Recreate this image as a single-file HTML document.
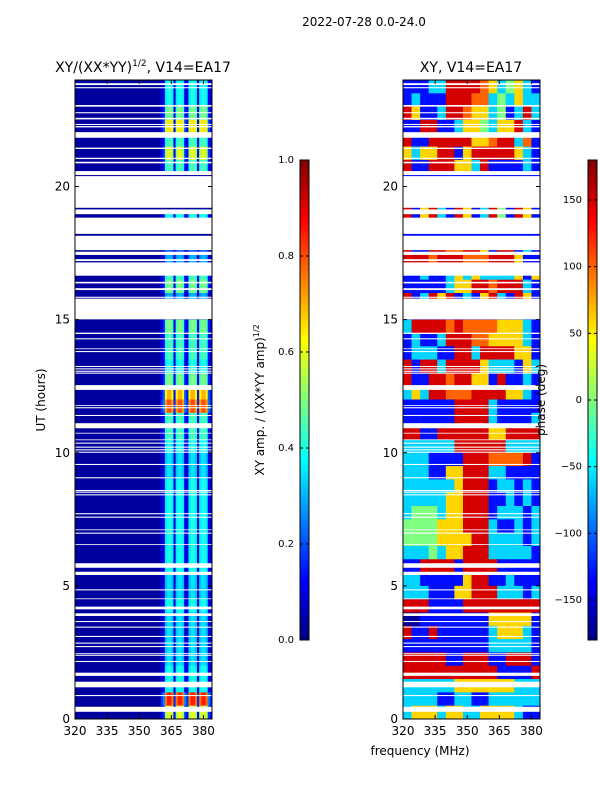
<!DOCTYPE html>
<html><head><meta charset="utf-8"><style>
html,body{margin:0;padding:0;background:#fff;}
svg{display:block;font-family:"DejaVu Sans","Liberation Sans",sans-serif;}
</style></head><body>
<svg id="chart" width="600" height="800" viewBox="0 0 600 800" xmlns="http://www.w3.org/2000/svg">
<text x="364" y="26" font-size="12" text-anchor="middle">2022-07-28 0.0-24.0</text>
<text x="143" y="72" font-size="14" text-anchor="middle">XY/(XX*YY)<tspan font-size="9" dy="-6">1/2</tspan><tspan dy="6">, V14=EA17</tspan></text>
<text x="471" y="72" font-size="14" text-anchor="middle">XY, V14=EA17</text>
<text transform="translate(45,400) rotate(-90)" font-size="12" text-anchor="middle">UT (hours)</text>
<text x="420" y="755" font-size="12" text-anchor="middle">frequency (MHz)</text>
<text transform="translate(264,400) rotate(-90)" font-size="12" text-anchor="middle">XY amp. / (XX*YY amp)<tspan font-size="8" dy="-5">1/2</tspan></text>
<g id="left"></g>
<g id="right"></g>
<g id="axes"></g>
<text transform="translate(545,400) rotate(-90)" font-size="12" text-anchor="middle">phase (deg)</text>
</svg>
<script>
// ---- data ----
const hourTicks = [0, 5, 10, 15, 20];
const freqTicks = [320, 335, 350, 365, 380];
const ampTicks = [0.0, 0.2, 0.4, 0.6, 0.8, 1.0];
const phaseTicks = [-150, -100, -50, 0, 50, 100, 150];
// amplitude band frequency bins (1 MHz, start freq)
const bandFreqs = [360,361,362,363,364,365,366,367,368,369,370,371,372,373,374,375,376,377,378,379,380,381,382,383];
const bandProfile = [0.2,0.3,0.9,1,1,0.9,0.2,0.9,1,1,0.9,0.3,0.2,0.9,1,1,0.9,0.2,0.9,1,1,0.9,0.3,0.2];
// half-hour rows from 24h downward
const rowGain = [0.4,0.4,0.5,0.65,0.45,0.6,0.45,0,0,0,0.4,0,0.2,0.3,0.45,0.5,0.3,0,0.5,0.45,0.45,0.4,0.5,0.7,
                 0.8,0.45,0.45,0.4,0.35,0.35,0.4,0.4,0.4,0.4,0.4,0.4,0.4,0.35,0.35,0.4,0.35,0.35,0.35,0.35,0.4,0.4,0.85,0.6];
const ampBackground = 0.03;
// phase: 16 columns of 4 MHz, rows of 0.5 h from 24h downward
const phaseRows = [
"bbbccrrrroycgycb","bcbbbrrroocgcycc","rybbcrroyycgbcrc","bbrrbbcyygcyyrcb",
"rbbrrrrryyorrcob","ycyyrrbyrrrrrycb","rbbrrryycrbbbbcb","bbbbbbbbbbbbbbbb",
"bbbbbbbbbbbbbbbb","rbyrcbrybcrgbryb","rbyrcbrybcrgbryb","bbbbbbbbbbbbbbbb",
"rbbrroorrybrrbcb","rrrorrrooorrrybb","bbcbbcycyccccyby","bbbbbcyyrrorrrcb",
"rbcryrbcbyrcbryb","bbbbbbbbbbbbbbbb","crrrrorooooyyycb","bcbbcrrrooyyyycb",
"bcccbbrrcrrrryyb","rbrrcrrrrycccbyc","rbbrrorryybrbbcb","cycrrooorrrryycb",
"bbbbbbrrrrcbbbbb","bbbbbbrrrrcbbbbc","rrbbrrrrrryyrrrr","ccccccrrrrrrcccc",
"cccbbbbrrroooorb","cccbbyyrrrccbbbb","ccccccyrrrbccbcb","cccccyyrrrbbcbcb",
"cgggcyyrrrbcccbc","ggggyyyrrrcbbcbc","ggggyyyyrrccccbc","cccgcyyrrrcccccb",
"bbrrrrbrrrrbbbbb","ccbbbbbyrrbbcbbb","cccbbbyyrrrcccbc","rrrbbbbrrrrrrrrr",
"BBbbbbbbbbyyyyyb","rbbrbbbbbbcyyycb","bbbbbbbbbbcccccb","rrrrrbbrrrbbrrrb",
"rrrrrrrrrrrbbbbr","ccccccyyyyyyyccc","ccccbbccbbcccccc","cyyycyyccyyyycbb"];
const phaseCodes = {B:-170, b:-130, c:-60, g:0, y:60, o:100, r:150};
// blank (no data) intervals in hours [low, high]
const gaps = [[23.81,23.88],[23.69,23.73],[23.0,23.06],[22.75,22.79],[22.52,22.58],[22.31,22.35],[22.22,22.27],
[21.83,22.04],[21.41,21.46],[21.03,21.08],[20.87,20.93],[20.43,20.58],[19.2,20.39],[18.96,19.14],[18.22,18.83],
[17.61,18.15],[17.43,17.55],[17.2,17.27],[16.65,17.15],[16.36,16.42],[16.11,16.18],[15.82,15.86],[15.01,15.79],
[14.46,14.51],[14.26,14.3],[13.89,13.92],[13.78,13.82],[13.22,13.26],[13.13,13.17],[13.04,13.08],[12.97,13.01],
[12.36,12.54],[11.76,11.79],[11.67,11.71],[11.38,11.42],[10.92,11.11],[10.72,10.75],[10.47,10.5],[10.34,10.38],
[10.19,10.23],[10.09,10.13],[10.0,10.04],[9.54,9.58],[9.04,9.08],[8.56,8.6],[8.5,8.54],[8.4,8.44],[7.69,7.73],
[7.56,7.6],[7.09,7.12],[6.96,7.0],[6.54,6.57],[5.68,5.85],[5.41,5.53],[4.83,4.87],[4.5,4.53],[4.12,4.22],
[3.87,3.97],[3.64,3.68],[3.43,3.47],[3.08,3.12],[2.83,2.87],[2.7,2.74],[2.43,2.47],[2.37,2.4],[2.14,2.18],
[1.62,1.74],[1.19,1.4],[0.86,0.9],[0.27,0.46]];

// ---- scales ----
const NS = "http://www.w3.org/2000/svg";
const yTop = 80, yBot = 719, hMax = 24;
const yS = h => yBot - (yBot - yTop) * h / hMax;
const F0 = 320, F1 = 384;
const LX0 = 75, LX1 = 212, RX0 = 403, RX1 = 540;
const xL = f => LX0 + (LX1 - LX0) * (f - F0) / (F1 - F0);
const xR = f => RX0 + (RX1 - RX0) * (f - F0) / (F1 - F0);
const cl = v => Math.max(0, Math.min(1, v));
function jet(v){ v = cl(v);
  const r = cl(1.5 - Math.abs(4*v-3)), g = cl(1.5 - Math.abs(4*v-2)), b = cl(1.5 - Math.abs(4*v-1));
  return `rgb(${Math.round(r*255)},${Math.round(g*255)},${Math.round(b*255)})`; }
function mk(tag, attrs, parent){ const e = document.createElementNS(NS, tag);
  for (const k in attrs) e.setAttribute(k, attrs[k]); parent.appendChild(e); return e; }

const left = document.getElementById('left'), right = document.getElementById('right'), axes = document.getElementById('axes');
const rowH = hMax / rowGain.length;

// left background
const bg = mk('rect', {x:LX0, y:yTop, width:LX1-LX0, height:yBot-yTop, fill:jet(ampBackground)}, left);


// left band cells
rowGain.forEach((g, r) => {
  const hHi = hMax - r*rowH, hLo = hHi - rowH;
  bandFreqs.forEach((f, c) => {
    const x0 = xL(f), x1 = xL(Math.min(f+1, F1));
    const e = mk('rect', {x:x0, y:yS(hHi), width:x1-x0+0.3, height:yS(hLo)-yS(hHi)+0.3, fill:jet(Math.max(ampBackground, g*bandProfile[c]))}, left);
    
    
  });
});
// right phase cells
phaseRows.forEach((row, r) => {
  const hHi = hMax - r*(hMax/phaseRows.length), hLo = hHi - hMax/phaseRows.length;
  const n = row.length, fw = (F1 - F0)/n;
  for (let c = 0; c < n; c++) {
    const deg = phaseCodes[row[c]];
    const x0 = xR(F0 + c*fw), x1 = xR(F0 + (c+1)*fw);
    const e = mk('rect', {x:x0, y:yS(hHi), width:x1-x0+0.3, height:yS(hLo)-yS(hHi)+0.3, fill:jet((deg+180)/360)}, right);
    
    
  }
});
// gaps
gaps.forEach(([lo, hi]) => {
  [[LX0,LX1,left],[RX0,RX1,right]].forEach(([a,b,p]) => {
    const e = mk('rect', {x:a, y:yS(hi), width:b-a, height:yS(lo)-yS(hi), fill:'#fff'}, p);
    
    
  });
});

// axes frames + ticks
[[LX0,LX1,xL],[RX0,RX1,xR]].forEach(([a,b,xs]) => {
  const fr = mk('rect', {x:a, y:yTop, width:b-a, height:yBot-yTop, fill:'none', stroke:'#000', 'stroke-width':1}, axes);
  
  
  hourTicks.forEach(h => {
    const y = yS(h);
    mk('line', {x1:a, x2:a+4, y1:y, y2:y, stroke:'#000'}, axes);
    mk('line', {x1:b, x2:b-4, y1:y, y2:y, stroke:'#000'}, axes);
    const t = mk('text', {x:a-5, y:y+4, 'font-size':12, 'text-anchor':'end'}, axes);
    t.textContent = h;
    
    
  });
  freqTicks.forEach(f => {
    const x = xs(f);
    mk('line', {x1:x, x2:x, y1:yBot, y2:yBot-4, stroke:'#000'}, axes);
    mk('line', {x1:x, x2:x, y1:yTop, y2:yTop+4, stroke:'#000'}, axes);
    const t = mk('text', {x:x, y:yBot+16, 'font-size':12, 'text-anchor':'middle'}, axes);
    t.textContent = f;
    
    
  });
});

// colorbars
function colorbar(x, ticks, lo, hi, fmt, name){
  const cbTop = 160, cbBot = 640, w = 9, steps = 96;
  for (let i = 0; i < steps; i++) {
    const v = i/steps;
    mk('rect', {x:x, y:cbBot-(i+1)*(cbBot-cbTop)/steps, width:w, height:(cbBot-cbTop)/steps+0.5, fill:jet(v+0.5/steps)}, axes);
  }
  const fr = mk('rect', {x:x, y:cbTop, width:w, height:cbBot-cbTop, fill:'none', stroke:'#000'}, axes);
  
  
  ticks.forEach(v => {
    const y = cbBot - (cbBot-cbTop)*(v-lo)/(hi-lo);
    mk('line', {x1:x, x2:x+3, y1:y, y2:y, stroke:'#000'}, axes);
    mk('line', {x1:x+w, x2:x+w-3, y1:y, y2:y, stroke:'#000'}, axes);
    const t = mk('text', {x:x-6, y:y+3, 'font-size':10, 'text-anchor':'end'}, axes);
    t.textContent = fmt(v);
    
    
  });
}
colorbar(300, ampTicks, 0, 1, v => v.toFixed(1), 'amplitude-colorbar');
colorbar(588, phaseTicks, -180, 180, v => (v<0?'\u2212'+(-v):''+v), 'phase-colorbar');
</script>
</body></html>
